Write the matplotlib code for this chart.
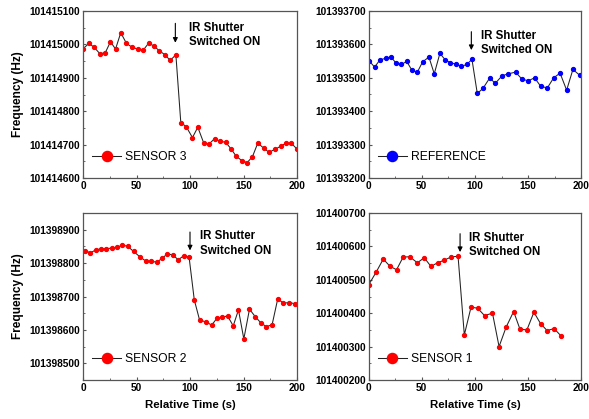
import matplotlib
matplotlib.use("Agg")
import matplotlib.pyplot as plt
from matplotlib.ticker import MultipleLocator, FuncFormatter

plt.rcParams['font.family'] = ['Liberation Sans', 'DejaVu Sans']

# ---- data ----
t_s3 = [0, 5.6, 10.5, 15.8, 20.8, 25.7, 30.4, 35.3, 40.6, 45.6, 51.1, 56.1, 61.4, 66.3,
        71.3, 76.6, 81.5, 86.8, 91.4, 96.4, 102.3, 107.3, 112.8, 117.8, 123.1, 128.0,
        133.3, 138.2, 143.2, 148.5, 153.4, 158.4, 163.4, 168.9, 173.9, 179.5, 184.7,
        189.7, 194.7, 199.6]
v_s3 = [101414987, 101415003, 101414991, 101414972, 101414975, 101415008, 101414986,
        101415035, 101415003, 101414992, 101414986, 101414982, 101415004, 101414995,
        101414981, 101414969, 101414952, 101414969, 101414766, 101414754, 101414721,
        101414752, 101414705, 101414702, 101414718, 101414710, 101414707, 101414688,
        101414665, 101414652, 101414646, 101414664, 101414705, 101414689, 101414677,
        101414686, 101414695, 101414704, 101414704, 101414688]

t_ref = [0.3, 5.6, 10.6, 15.9, 20.9, 25.9, 30.8, 35.8, 40.8, 45.8, 50.8, 56.7, 61.7, 67.0,
         72.0, 76.9, 82.2, 87.2, 92.2, 97.2, 102.2, 107.5, 114.0, 119.0, 125.5, 131.5,
         138.3, 144.2, 150.2, 156.1, 162.0, 168.2, 174.1, 180.1, 186.3, 192.2, 198.8]
v_ref = [101393551, 101393532, 101393554, 101393558, 101393563, 101393543, 101393540,
         101393549, 101393522, 101393517, 101393548, 101393562, 101393512, 101393573,
         101393554, 101393545, 101393541, 101393534, 101393540, 101393555, 101393453,
         101393468, 101393500, 101393483, 101393506, 101393512, 101393517, 101393496,
         101393491, 101393500, 101393474, 101393470, 101393500, 101393514, 101393463,
         101393525, 101393507]

t_s2 = [1.9, 6.8, 11.8, 16.8, 21.7, 26.7, 31.7, 36.9, 41.9, 47.2, 53.1, 58.7, 64.0, 68.9,
        73.9, 78.9, 83.9, 89.1, 94.1, 99.1, 104.0, 109.0, 115.2, 120.2, 125.2, 130.1,
        135.1, 140.4, 145.3, 150.3, 155.6, 160.9, 166.5, 171.4, 176.7, 182.0, 187.3,
        192.9, 198.4]
v_s2 = [101398837, 101398831, 101398839, 101398843, 101398843, 101398845, 101398847,
        101398854, 101398850, 101398835, 101398819, 101398806, 101398805, 101398803,
        101398814, 101398828, 101398824, 101398810, 101398822, 101398819, 101398690,
        101398629, 101398624, 101398614, 101398635, 101398638, 101398642, 101398612,
        101398660, 101398573, 101398662, 101398640, 101398620, 101398610, 101398615,
        101398693, 101398680, 101398682, 101398678]

t_s1 = [0, 7.2, 13.7, 19.9, 26.2, 32.4, 38.6, 45.8, 52.3, 58.6, 64.8, 71.3, 77.9, 84.1,
        90.0, 96.3, 102.5, 109.0, 116.5, 122.7, 129.3, 136.4, 142.4, 148.9, 155.5, 161.7,
        167.9, 174.5, 180.7]
v_s1 = [101400485, 101400524, 101400562, 101400541, 101400530, 101400568, 101400569,
        101400551, 101400566, 101400540, 101400551, 101400559, 101400569, 101400570,
        101400335, 101400418, 101400415, 101400393, 101400400, 101400300, 101400358,
        101400405, 101400352, 101400350, 101400403, 101400369, 101400348, 101400354,
        101400333]

panels = [
    dict(t=t_s3, v=v_s3, color='#ff0000', label='SENSOR 3', ylim=(101414600, 101415100),
         arrow_x=86.3, arrow_y=(101415063, 101415005), text_x=99, text_y=101415068),
    dict(t=t_ref, v=v_ref, color='#0000ff', label='REFERENCE', ylim=(101393200, 101393700),
         arrow_x=96.6, arrow_y=(101393638, 101393583), text_x=105.5, text_y=101393643),
    dict(t=t_s2, v=v_s2, color='#ff0000', label='SENSOR 2', ylim=(101398450, 101398950),
         arrow_x=100, arrow_y=(101398893, 101398838), text_x=109, text_y=101398898),
    dict(t=t_s1, v=v_s1, color='#ff0000', label='SENSOR 1', ylim=(101400200, 101400700),
         arrow_x=86, arrow_y=(101400638, 101400583), text_x=94.5, text_y=101400643),
]

positions = [
    [83/589, 1-178/419, 214/589, 167/419],
    [368.7/589, 1-178/419, 212.5/589, 167/419],
    [83/589, 1-380/419, 214/589, 167/419],
    [368.7/589, 1-380/419, 212.5/589, 167/419],
]

fig = plt.figure(figsize=(5.89, 4.19), dpi=100)
spine_col = '#555555'
for i, (p, pos) in enumerate(zip(panels, positions)):
    ax = fig.add_axes(pos)
    ax.plot(p['t'], p['v'], '-', color='#222222', lw=0.75, marker='o', ms=2.8,
            mfc=p['color'], mec=p['color'], label=p['label'])
    ax.set_xlim(0, 200)
    ax.set_ylim(*p['ylim'])
    ax.xaxis.set_major_locator(MultipleLocator(50))
    ax.xaxis.set_minor_locator(MultipleLocator(25))
    ax.yaxis.set_major_locator(MultipleLocator(100))
    ax.yaxis.set_minor_locator(MultipleLocator(50))
    ax.yaxis.set_major_formatter(FuncFormatter(lambda v, _: f"{int(round(v))}"))
    ax.tick_params(which='both', direction='in', color=spine_col, labelsize=7.3, pad=2)
    ax.tick_params(which='major', length=2.5, width=0.8)
    ax.tick_params(which='minor', length=1.5, width=0.6)
    for lab in ax.get_xticklabels() + ax.get_yticklabels():
        lab.set_fontweight('bold')
    for s in ax.spines.values():
        s.set_color(spine_col)
        s.set_linewidth(0.9)
    leg = ax.legend(loc='lower left', frameon=False, fontsize=8.7, markerscale=2.6,
                    handlelength=2.4, handletextpad=0.35, bbox_to_anchor=(0.02, 0.06),
                    borderaxespad=0)
    ax.annotate('', xy=(p['arrow_x'], p['arrow_y'][1]), xytext=(p['arrow_x'], p['arrow_y'][0]),
                arrowprops=dict(arrowstyle='-|>', color='black', lw=0.8,
                                mutation_scale=7, shrinkA=0, shrinkB=0))
    ax.text(p['text_x'], p['text_y'], 'IR Shutter\nSwitched ON', fontsize=8.3,
            fontweight='bold', ha='left', va='top', linespacing=1.25)
    if i % 2 == 0:
        ax.set_ylabel('Frequency (Hz)', fontsize=8.6, fontweight='bold', labelpad=4)
    if i >= 2:
        ax.set_xlabel('Relative Time (s)', fontsize=8.2, fontweight='bold', labelpad=5)

fig.savefig('out.png', dpi=100)
